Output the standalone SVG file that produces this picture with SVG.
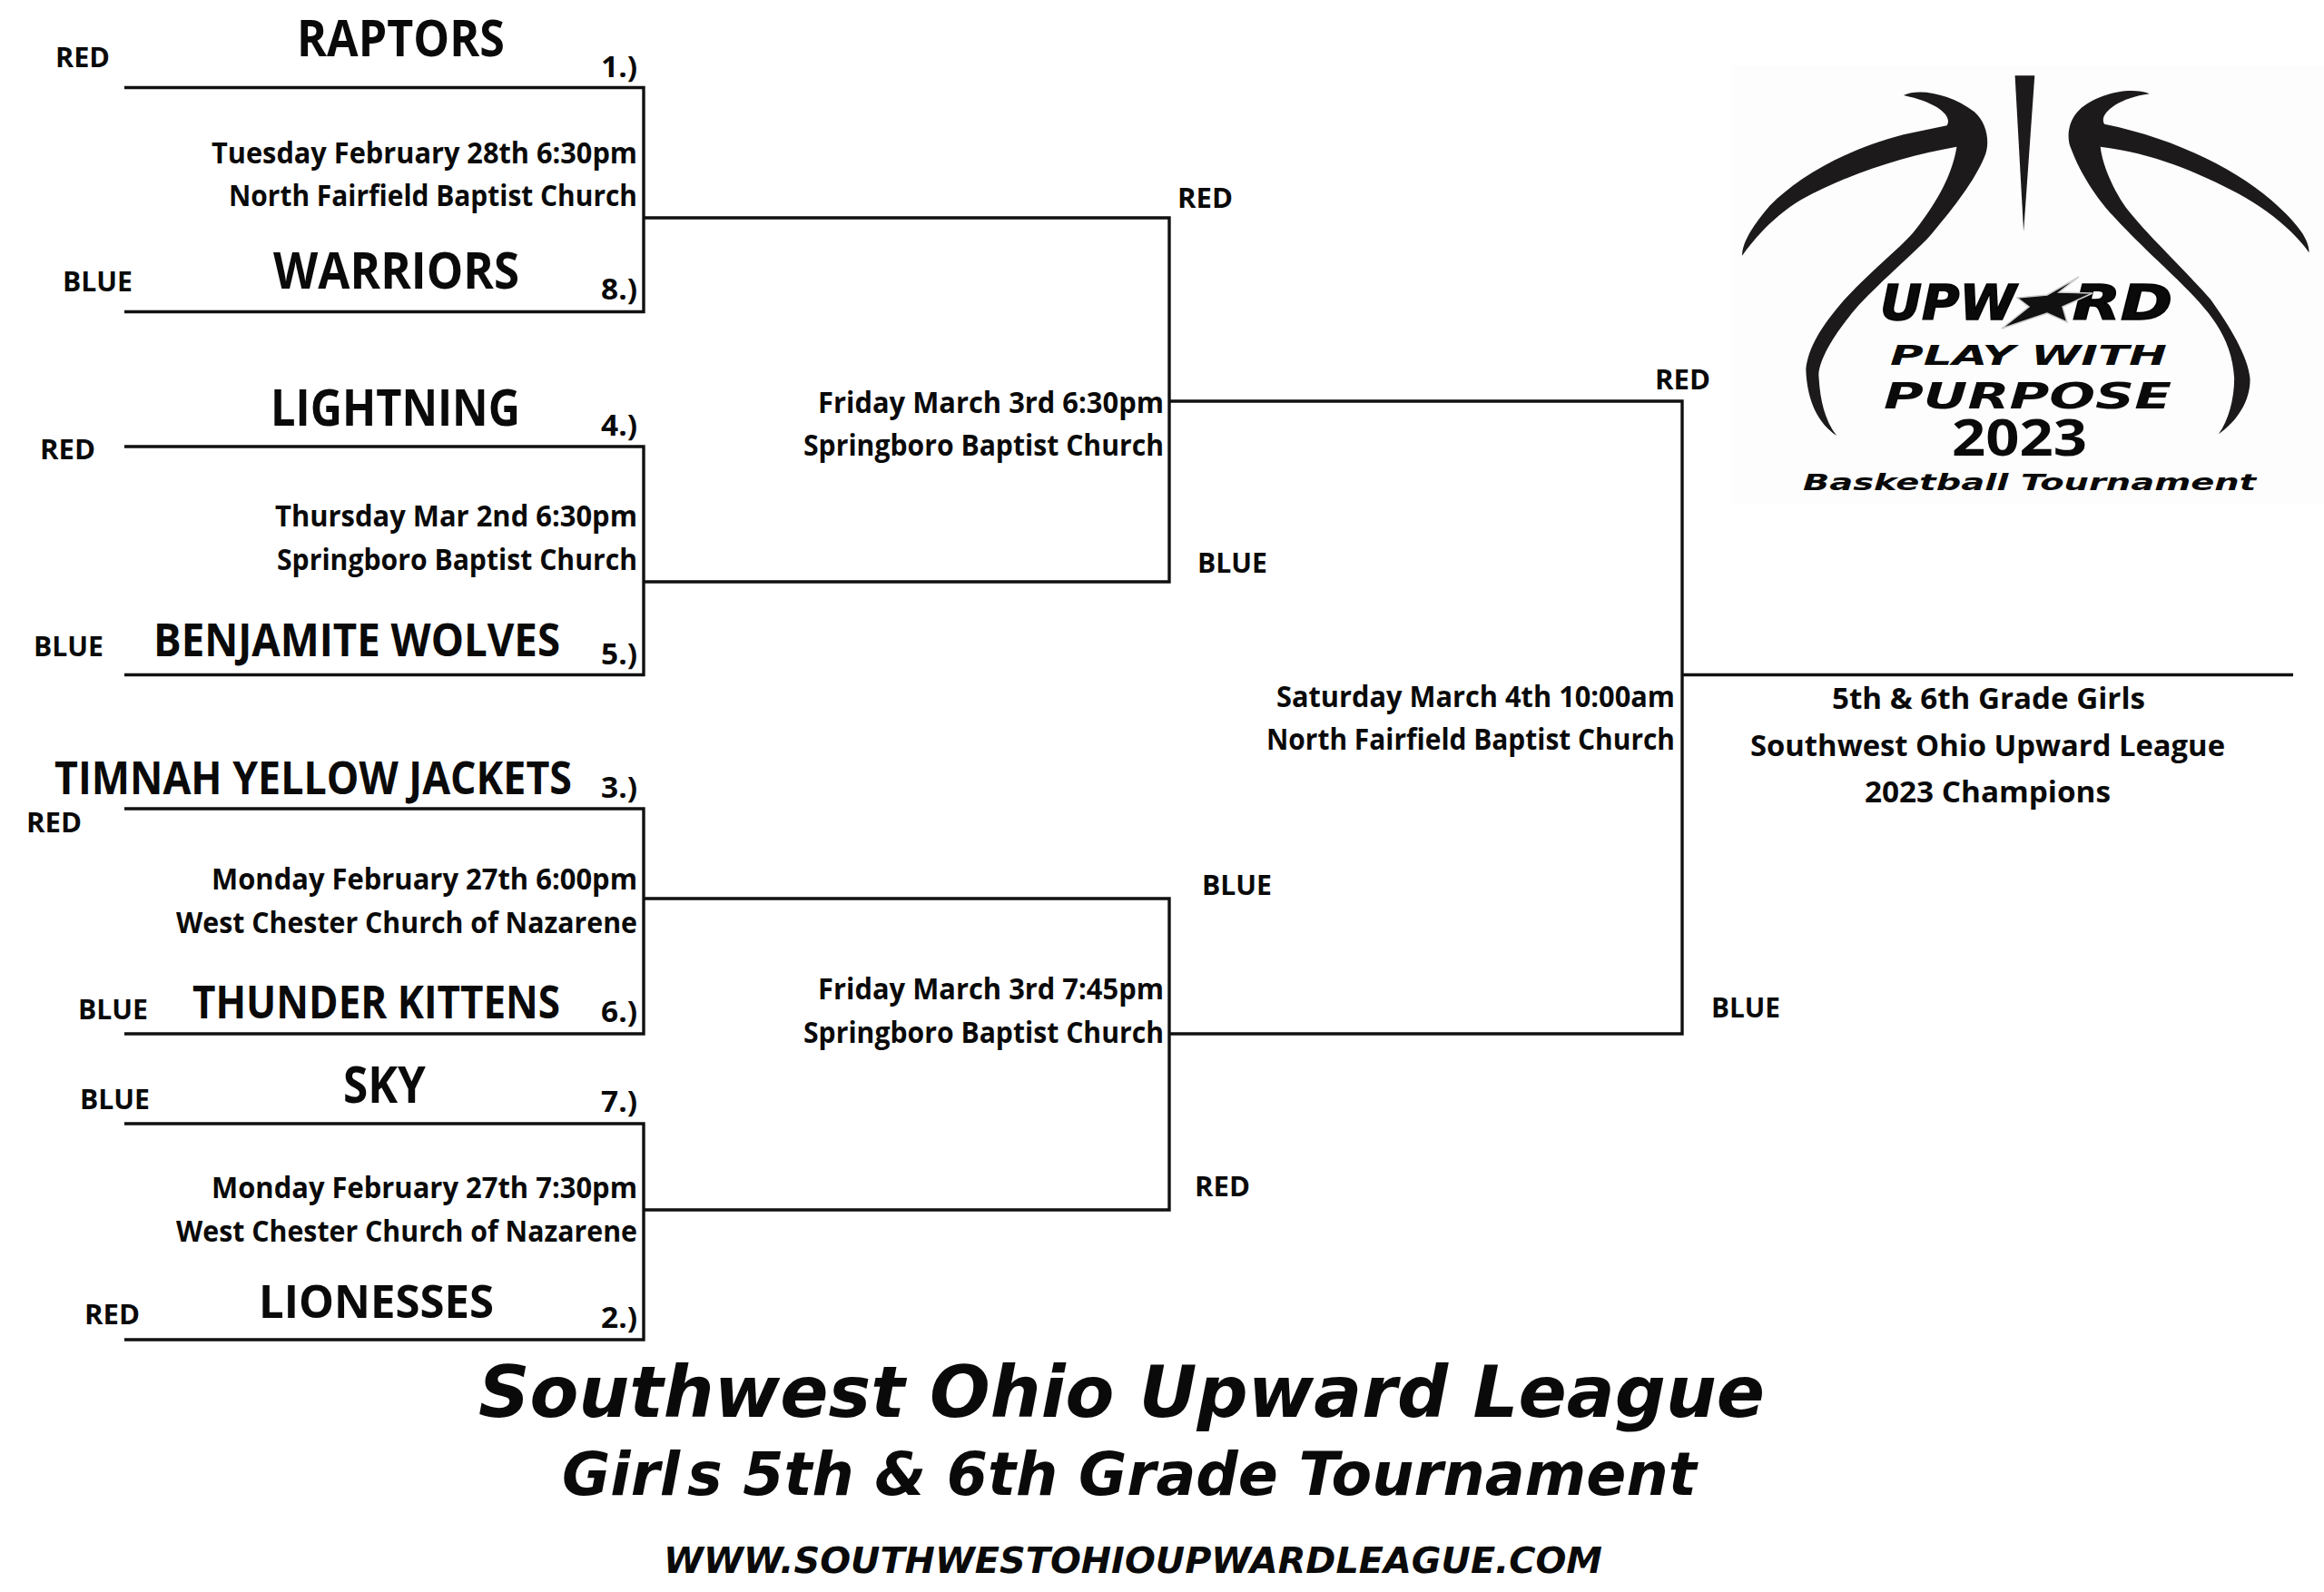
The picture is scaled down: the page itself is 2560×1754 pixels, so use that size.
<svg xmlns="http://www.w3.org/2000/svg" width="2560" height="1754" viewBox="0 0 2560 1754">
<style>
text{fill:#0a0a0a;font-family:"Open Sans","Noto Sans",sans-serif;font-weight:700}
.t{font-size:56px}
.m{font-size:32px}
.s{font-size:32px}
.c{font-size:30px}
.v{font-family:"DejaVu Sans",sans-serif;font-style:italic}
.l{fill:none;stroke:#111;stroke-width:3.4}
.logo{fill:#1c1a1a}
</style>
<rect width="2560" height="1754" fill="#fff"/>
<g id="connectors" class="l">
<path d="M137 96.500H709V343.500H137"/>
<path d="M137 492H709V743.500H137"/>
<path d="M137 891H709V1139H137"/>
<path d="M137 1238H709V1476H137"/>
<path d="M709 240H1288V641H709"/>
<path d="M709 990H1288V1333H709"/>
<path d="M1288 442H1853V1139H1288"/>
<path d="M1853 743.500H2526"/>
</g>
<g id="logo">
<rect x="1908" y="72" width="652" height="482" fill="#fdfdfd"/>
<g class="logo" transform="translate(1880 50) scale(.4337 .3333)">
<path d="M783 100H833L805 615Z"/>
<path d="M500 165C540 140 620 160 680 220C715 260 720 330 705 370C680 450 620 550 560 640C490 730 400 830 360 900C310 980 280 1060 285 1100C288 1170 300 1240 330 1290C285 1250 255 1180 252 1070C258 1000 290 930 350 840C430 730 500 660 530 610C590 510 625 420 635 335C500 365 360 425 240 510C170 565 120 640 90 695C90 650 120 590 160 530C230 440 340 350 500 295L610 265C625 235 590 190 500 165Z"/>
<path d="M1125 160C1075 135 990 160 945 215C915 255 915 310 925 340C950 430 1000 520 1030 560C1100 660 1170 740 1200 780C1270 870 1335 960 1340 1100C1340 1170 1325 1240 1300 1285C1350 1240 1382 1170 1380 1100C1375 1030 1330 930 1280 840C1220 750 1130 640 1080 560C1040 500 1005 400 1000 335C1130 355 1250 420 1350 490C1420 540 1490 610 1530 685C1530 640 1500 590 1450 530C1360 420 1200 310 1010 260C995 230 1040 175 1125 160Z"/>
</g>
<text class="v" x="2071" y="352" font-size="54" stroke="#000" stroke-width="1.500" textLength="150" lengthAdjust="spacingAndGlyphs">UPW</text>
<text class="v" x="2283" y="352" font-size="54" stroke="#000" stroke-width="1.500" textLength="110" lengthAdjust="spacingAndGlyphs">RD</text>
<polygon points="2290,305 2268,322 2305,323 2272,338 2277,355 2255,345 2205,362 2235,338 2222,328 2255,325" fill="#111" stroke="#ccc" stroke-width="1.500"/>
<text class="v" x="2082" y="402" font-size="30" textLength="305" lengthAdjust="spacingAndGlyphs">PLAY WITH</text>
<text class="v" x="2075" y="450" font-size="39" textLength="317" lengthAdjust="spacingAndGlyphs">PURPOSE</text>
<text x="2150" y="502" font-size="56" textLength="149" lengthAdjust="spacingAndGlyphs" fill="#000">2023</text>
<text class="v" x="1986" y="540" font-size="24" textLength="499" lengthAdjust="spacingAndGlyphs">Basketball Tournament</text>
</g>
<g id="team-raptors"><text class="t" x="327" y="62" textLength="229" lengthAdjust="spacingAndGlyphs">RAPTORS</text><text class="s" x="662" y="85" textLength="40" lengthAdjust="spacingAndGlyphs">1.)</text><text class="c" x="61" y="74" textLength="60" lengthAdjust="spacingAndGlyphs">RED</text></g>
<g id="team-warriors"><text class="t" x="301" y="318" textLength="271" lengthAdjust="spacingAndGlyphs">WARRIORS</text><text class="s" x="662" y="330" textLength="40" lengthAdjust="spacingAndGlyphs">8.)</text><text class="c" x="69" y="321" textLength="77" lengthAdjust="spacingAndGlyphs">BLUE</text></g>
<g id="match-1"><text class="m" x="233" y="180" textLength="469" lengthAdjust="spacingAndGlyphs">Tuesday February 28th 6:30pm</text><text class="m" x="252" y="227" textLength="450" lengthAdjust="spacingAndGlyphs">North Fairfield Baptist Church</text></g>
<g id="team-lightning"><text class="t" x="298" y="469" textLength="275" lengthAdjust="spacingAndGlyphs">LIGHTNING</text><text class="s" x="662" y="480" textLength="40" lengthAdjust="spacingAndGlyphs">4.)</text><text class="c" x="44" y="506" textLength="61" lengthAdjust="spacingAndGlyphs">RED</text></g>
<g id="match-2"><text class="m" x="303" y="580" textLength="399" lengthAdjust="spacingAndGlyphs">Thursday Mar 2nd 6:30pm</text><text class="m" x="305" y="628" textLength="397" lengthAdjust="spacingAndGlyphs">Springboro Baptist Church</text></g>
<g id="team-benjamite"><text class="t" x="169" y="723" textLength="448" lengthAdjust="spacingAndGlyphs" style="font-size:50px">BENJAMITE WOLVES</text><text class="s" x="662" y="732" textLength="40" lengthAdjust="spacingAndGlyphs">5.)</text><text class="c" x="37" y="723" textLength="77" lengthAdjust="spacingAndGlyphs">BLUE</text></g>
<g id="team-timnah"><text class="t" x="60" y="875" textLength="570" lengthAdjust="spacingAndGlyphs" style="font-size:50px">TIMNAH YELLOW JACKETS</text><text class="s" x="662" y="879" textLength="40" lengthAdjust="spacingAndGlyphs">3.)</text><text class="c" x="29" y="917" textLength="61" lengthAdjust="spacingAndGlyphs">RED</text></g>
<g id="match-3"><text class="m" x="233" y="980" textLength="469" lengthAdjust="spacingAndGlyphs">Monday February 27th 6:00pm</text><text class="m" x="194" y="1028" textLength="508" lengthAdjust="spacingAndGlyphs">West Chester Church of Nazarene</text></g>
<g id="team-thunder"><text class="t" x="212" y="1122" textLength="405" lengthAdjust="spacingAndGlyphs" style="font-size:50px">THUNDER KITTENS</text><text class="s" x="662" y="1126" textLength="40" lengthAdjust="spacingAndGlyphs">6.)</text><text class="c" x="86" y="1123" textLength="77" lengthAdjust="spacingAndGlyphs">BLUE</text></g>
<g id="team-sky"><text class="t" x="378" y="1215" textLength="91" lengthAdjust="spacingAndGlyphs">SKY</text><text class="s" x="662" y="1225" textLength="40" lengthAdjust="spacingAndGlyphs">7.)</text><text class="c" x="88" y="1222" textLength="77" lengthAdjust="spacingAndGlyphs">BLUE</text></g>
<g id="match-4"><text class="m" x="233" y="1320" textLength="469" lengthAdjust="spacingAndGlyphs">Monday February 27th 7:30pm</text><text class="m" x="194" y="1368" textLength="508" lengthAdjust="spacingAndGlyphs">West Chester Church of Nazarene</text></g>
<g id="team-lionesses"><text class="t" x="285" y="1452" textLength="259" lengthAdjust="spacingAndGlyphs" style="font-size:50px">LIONESSES</text><text class="s" x="662" y="1463" textLength="40" lengthAdjust="spacingAndGlyphs">2.)</text><text class="c" x="93" y="1459" textLength="61" lengthAdjust="spacingAndGlyphs">RED</text></g>
<g id="semi-1"><text class="c" x="1297" y="229" textLength="61" lengthAdjust="spacingAndGlyphs">RED</text><text class="m" x="901" y="455" textLength="381" lengthAdjust="spacingAndGlyphs">Friday March 3rd 6:30pm</text><text class="m" x="885" y="502" textLength="397" lengthAdjust="spacingAndGlyphs">Springboro Baptist Church</text><text class="c" x="1319" y="631" textLength="77" lengthAdjust="spacingAndGlyphs">BLUE</text></g>
<g id="semi-2"><text class="c" x="1324" y="986" textLength="77" lengthAdjust="spacingAndGlyphs">BLUE</text><text class="m" x="901" y="1101" textLength="381" lengthAdjust="spacingAndGlyphs">Friday March 3rd 7:45pm</text><text class="m" x="885" y="1149" textLength="397" lengthAdjust="spacingAndGlyphs">Springboro Baptist Church</text><text class="c" x="1316" y="1318" textLength="61" lengthAdjust="spacingAndGlyphs">RED</text></g>
<g id="final"><text class="c" x="1823" y="429" textLength="61" lengthAdjust="spacingAndGlyphs">RED</text><text class="m" x="1406" y="779" textLength="439" lengthAdjust="spacingAndGlyphs">Saturday March 4th 10:00am</text><text class="m" x="1395" y="826" textLength="450" lengthAdjust="spacingAndGlyphs">North Fairfield Baptist Church</text><text class="c" x="1885" y="1121" textLength="76" lengthAdjust="spacingAndGlyphs">BLUE</text></g>
<g id="champion"><text class="m" x="2018" y="781" textLength="345" lengthAdjust="spacingAndGlyphs">5th &amp; 6th Grade Girls</text><text class="m" x="1928" y="833" textLength="523" lengthAdjust="spacingAndGlyphs">Southwest Ohio Upward League</text><text class="m" x="2054" y="884" textLength="271" lengthAdjust="spacingAndGlyphs">2023 Champions</text></g>
<g id="titles">
<text class="v" x="527" y="1561" font-size="78" textLength="1417" lengthAdjust="spacingAndGlyphs">Southwest Ohio Upward League</text>
<text class="v" x="619" y="1647" font-size="65">Girl<tspan dx="8">s 5th &amp; 6th Grade Tournament</tspan></text>
<text class="v" x="731" y="1733" font-size="39" textLength="1034" lengthAdjust="spacingAndGlyphs">WWW.SOUTHWESTOHIOUPWARDLEAGUE.COM</text>
</g>
</svg>
